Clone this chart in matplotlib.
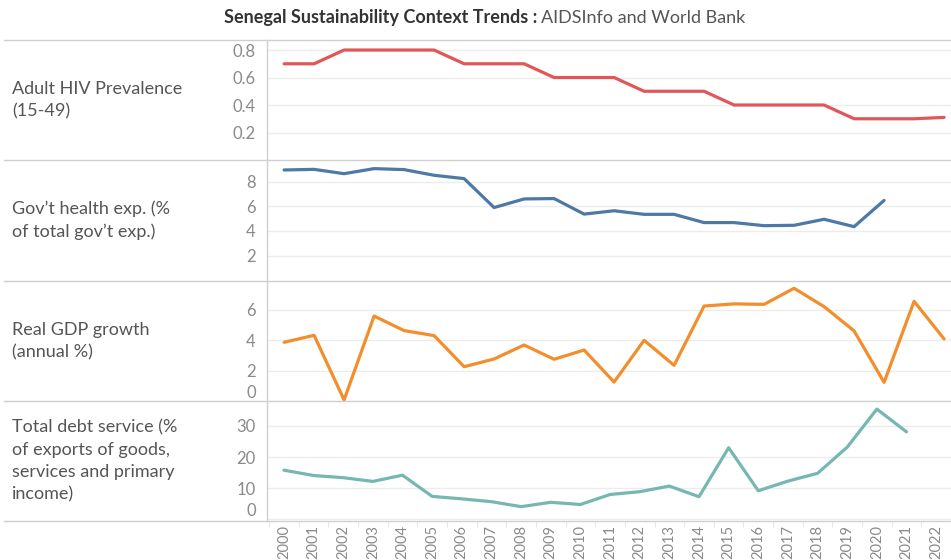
import matplotlib.pyplot as plt
import numpy as np

plt.rcParams['font.family'] = ['Lato', 'DejaVu Sans']

years = list(range(2000, 2023))

hiv_prev = [0.7, 0.7, 0.8, 0.8, 0.8, 0.8, 0.7, 0.7, 0.7, 0.6, 0.6, 0.6,
            0.5, 0.5, 0.5, 0.4, 0.4, 0.4, 0.4, 0.3, 0.3, 0.3, 0.31]
health_exp = [8.95, 9.0, 8.65, 9.06, 8.98, 8.52, 8.25, 5.9, 6.6, 6.63, 5.37,
              5.64, 5.35, 5.35, 4.68, 4.68, 4.43, 4.46, 4.95, 4.35, 6.48]
gdp_growth = [3.87, 4.33, 0.07, 5.6, 4.64, 4.31, 2.26, 2.77, 3.69, 2.75, 3.36,
              1.25, 4.0, 2.35, 6.26, 6.4, 6.37, 7.43, 6.22, 4.62, 1.23, 6.57, 4.09]
debt_service = [15.8, 14.1, 13.4, 12.2, 14.2, 7.4, 6.6, 5.7, 4.1, 5.5, 4.8,
                8.0, 8.9, 10.7, 7.3, 23.0, 9.2, 12.3, 14.8, 23.2, 35.4, 28.1]

labels = ["Adult HIV Prevalence\n(15-49)",
          "Gov\u2019t health exp. (%\nof total gov\u2019t exp.)",
          "Real GDP growth\n(annual %)",
          "Total debt service (%\nof exports of goods,\nservices and primary\nincome)"]
series = [hiv_prev, health_exp, gdp_growth, debt_service]
colors = ["#e15759", "#4e79a7", "#f28e2b", "#76b7b2"]
yticks = [[0.2, 0.4, 0.6, 0.8], [2, 4, 6, 8], [0, 2, 4, 6], [0, 10, 20, 30]]
ylims = [(0, 0.873), (-0.06, 9.76), (0, 7.91), (-0.5, 38.0)]
ytick_fmt = ["{:.1f}", "{:.0f}", "{:.0f}", "{:.0f}"]

W, H = 951, 560
fig = plt.figure(figsize=(W / 100, H / 100), dpi=100)

bounds = [40, 160, 281, 401, 521]  # panel edges in pixels from top
x_left = 267
sep_color = "#cfcfcf"
tick_color = "#8a8a8a"

for i in range(4):
    top, bot = bounds[i], bounds[i + 1]
    ax = fig.add_axes([x_left / W, 1 - bot / H, (W - x_left) / W, (bot - top) / H])
    ys = series[i]
    ax.plot(years[:len(ys)], ys, color=colors[i], lw=2.3, solid_capstyle='round',
            solid_joinstyle='round', zorder=3)
    ax.set_xlim(1999.43, 2022.23)
    ax.set_ylim(*ylims[i])
    ax.set_yticks(yticks[i])
    ax.set_yticklabels([ytick_fmt[i].format(v) for v in yticks[i]])
    ax.grid(axis='y', color="#ececec", lw=1)
    ax.tick_params(axis='y', length=0, labelsize=12, labelcolor=tick_color, pad=8)
    for s in ['top', 'right', 'bottom']:
        ax.spines[s].set_visible(False)
    ax.spines['left'].set_color(sep_color)
    ax.spines['left'].set_linewidth(1)
    if yticks[i][0] == 0:
        ax.get_yticklabels()[0].set_va('bottom')
    if i < 3:
        ax.set_xticks([])
    else:
        ax.set_xticks(years)
        ax.set_xticklabels([str(y) for y in years], rotation=90, va='top')
        ax.set_xticks(np.arange(1999.5, 2022.6, 1), minor=True)
        ax.tick_params(axis='x', which='major', length=0, labelsize=10.5,
                       labelcolor=tick_color, pad=3)
        ax.tick_params(axis='x', which='minor', length=4, color="#e0e0e0")
    # left label
    fig.text(12 / W, 1 - (top + bot) / 2 / H, labels[i], ha='left', va='center',
             fontsize=13, color="#555555", linespacing=1.5)

# horizontal separators across the full width
for y in bounds:
    fig.add_artist(plt.Line2D([4 / W, 1], [1 - y / H, 1 - y / H],
                              color=sep_color, lw=1, transform=fig.transFigure))

# title
fig.text(537 / W, 1 - 18 / H, "Senegal Sustainability Context Trends :", ha='right',
         va='center', fontsize=13, fontweight='bold', color="#333333")
fig.text(541 / W, 1 - 18 / H, "AIDSInfo and World Bank", ha='left',
         va='center', fontsize=13, color="#555555")

fig.savefig("out.png", dpi=100)
